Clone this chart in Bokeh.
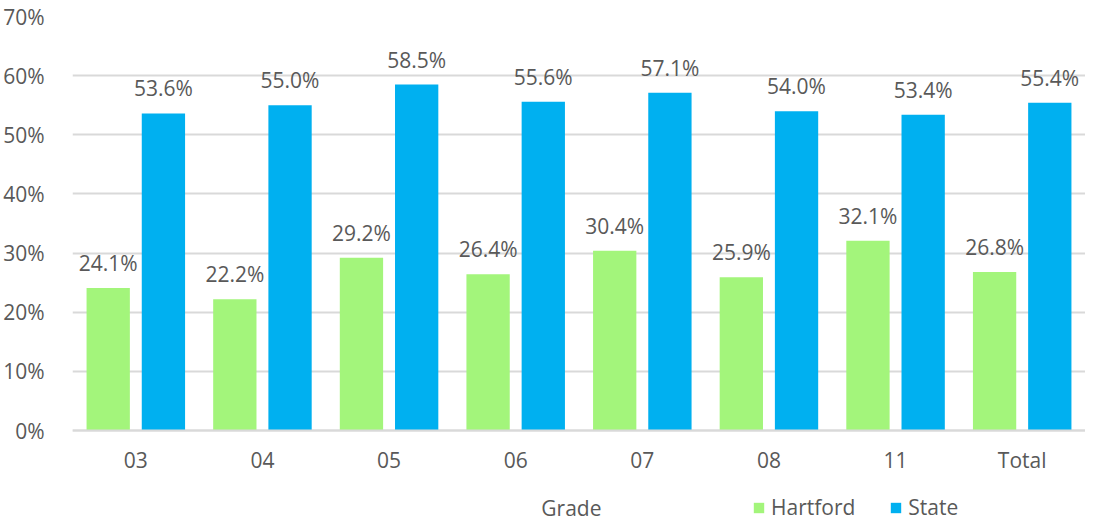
from bokeh.plotting import figure
from bokeh.models import (ColumnDataSource, FactorRange, Range1d, Legend, LegendItem,
                          NumeralTickFormatter, LabelSet, Label, CategoricalAxis)
from bokeh.core.properties import value
from bokeh.transform import dodge
from bokeh.embed import file_html
from bokeh.resources import INLINE

grades = ["03", "04", "05", "06", "07", "08", "11", "Total"]
hartford = [24.1, 22.2, 29.2, 26.4, 30.4, 25.9, 32.1, 26.8]
state = [53.6, 55.0, 58.5, 55.6, 57.1, 54.0, 53.4, 55.4]
y_ticks = [0, 0.1, 0.2, 0.3, 0.4, 0.5, 0.6, 0.7]

FONT = "Open Sans"
GRAY = "#595959"
GREEN = "#A3F57B"
BLUE = "#00B0F0"
FS = "21px"

src = ColumnDataSource(dict(
    grade=grades,
    h=[v / 100 for v in hartford],
    s=[v / 100 for v in state],
    hl=[f"{v:.1f}%" for v in hartford],
    sl=[f"{v:.1f}%" for v in state],
))

# frame: 70% at y=16, 0% at y=430, frame bottom at y=521
px_per_unit = (430 - 16) / 0.7
y_bottom = -(521 - 430) / px_per_unit

p = figure(width=1085, height=521, x_range=FactorRange(*grades, range_padding=0),
           y_range=Range1d(y_bottom, 0.7), output_backend="svg", toolbar_location=None,
           x_axis_location=None,
           min_border_left=63, min_border_right=0, min_border_top=16, min_border_bottom=0)
p.outline_line_color = None

rh = p.vbar(x=dodge("grade", -0.218, range=p.x_range), top="h", width=0.342, source=src,
            color=GREEN, line_color=None)
rs = p.vbar(x=dodge("grade", 0.218, range=p.x_range), top="s", width=0.342, source=src,
            color=BLUE, line_color=None)

for col, lab, off in (("h", "hl", -0.218), ("s", "sl", 0.218)):
    ls = LabelSet(x=dodge("grade", off, range=p.x_range), y=col, text=lab, source=src,
                  text_align="center", text_baseline="bottom", y_offset=11,
                  text_font=value(FONT), text_font_size=FS, text_color=GRAY)
    p.add_layout(ls)

p.yaxis.ticker = y_ticks
p.yaxis.formatter = NumeralTickFormatter(format="0%")
p.yaxis.axis_line_color = None
p.yaxis.major_tick_line_color = None
p.yaxis.minor_tick_line_color = None
p.yaxis.major_label_standoff = 22
p.yaxis.major_label_text_font = FONT
p.yaxis.major_label_text_font_size = FS
p.yaxis.major_label_text_color = GRAY

xaxis = CategoricalAxis(fixed_location=0, axis_line_color="#D9D9D9", axis_line_width=2,
                        major_tick_line_color=None, minor_tick_line_color=None,
                        major_label_standoff=9, major_label_text_font=FONT,
                        major_label_text_font_size=FS, major_label_text_color=GRAY)
p.add_layout(xaxis, "below")

p.xgrid.grid_line_color = None
p.ygrid.grid_line_color = "#D9D9D9"
p.ygrid.grid_line_width = 2

grade_label = Label(x=3.94, y=-(507 - 430) / px_per_unit, text="Grade",
                    text_align="center", text_baseline="middle",
                    text_font=FONT, text_font_size=FS, text_color=GRAY)
p.add_layout(grade_label)

legend = Legend(items=[LegendItem(label="Hartford", renderers=[rh]),
                       LegendItem(label="State", renderers=[rs])],
                orientation="horizontal", location=(680, 0),
                label_text_font=FONT, label_text_font_size=FS, label_text_color=GRAY,
                glyph_width=13, glyph_height=13, label_standoff=6, spacing=34,
                label_height=16, padding=0, margin=0, border_line_color=None,
                background_fill_alpha=0)
p.add_layout(legend, "center")

open("out.html", "w").write(file_html(p, INLINE))
